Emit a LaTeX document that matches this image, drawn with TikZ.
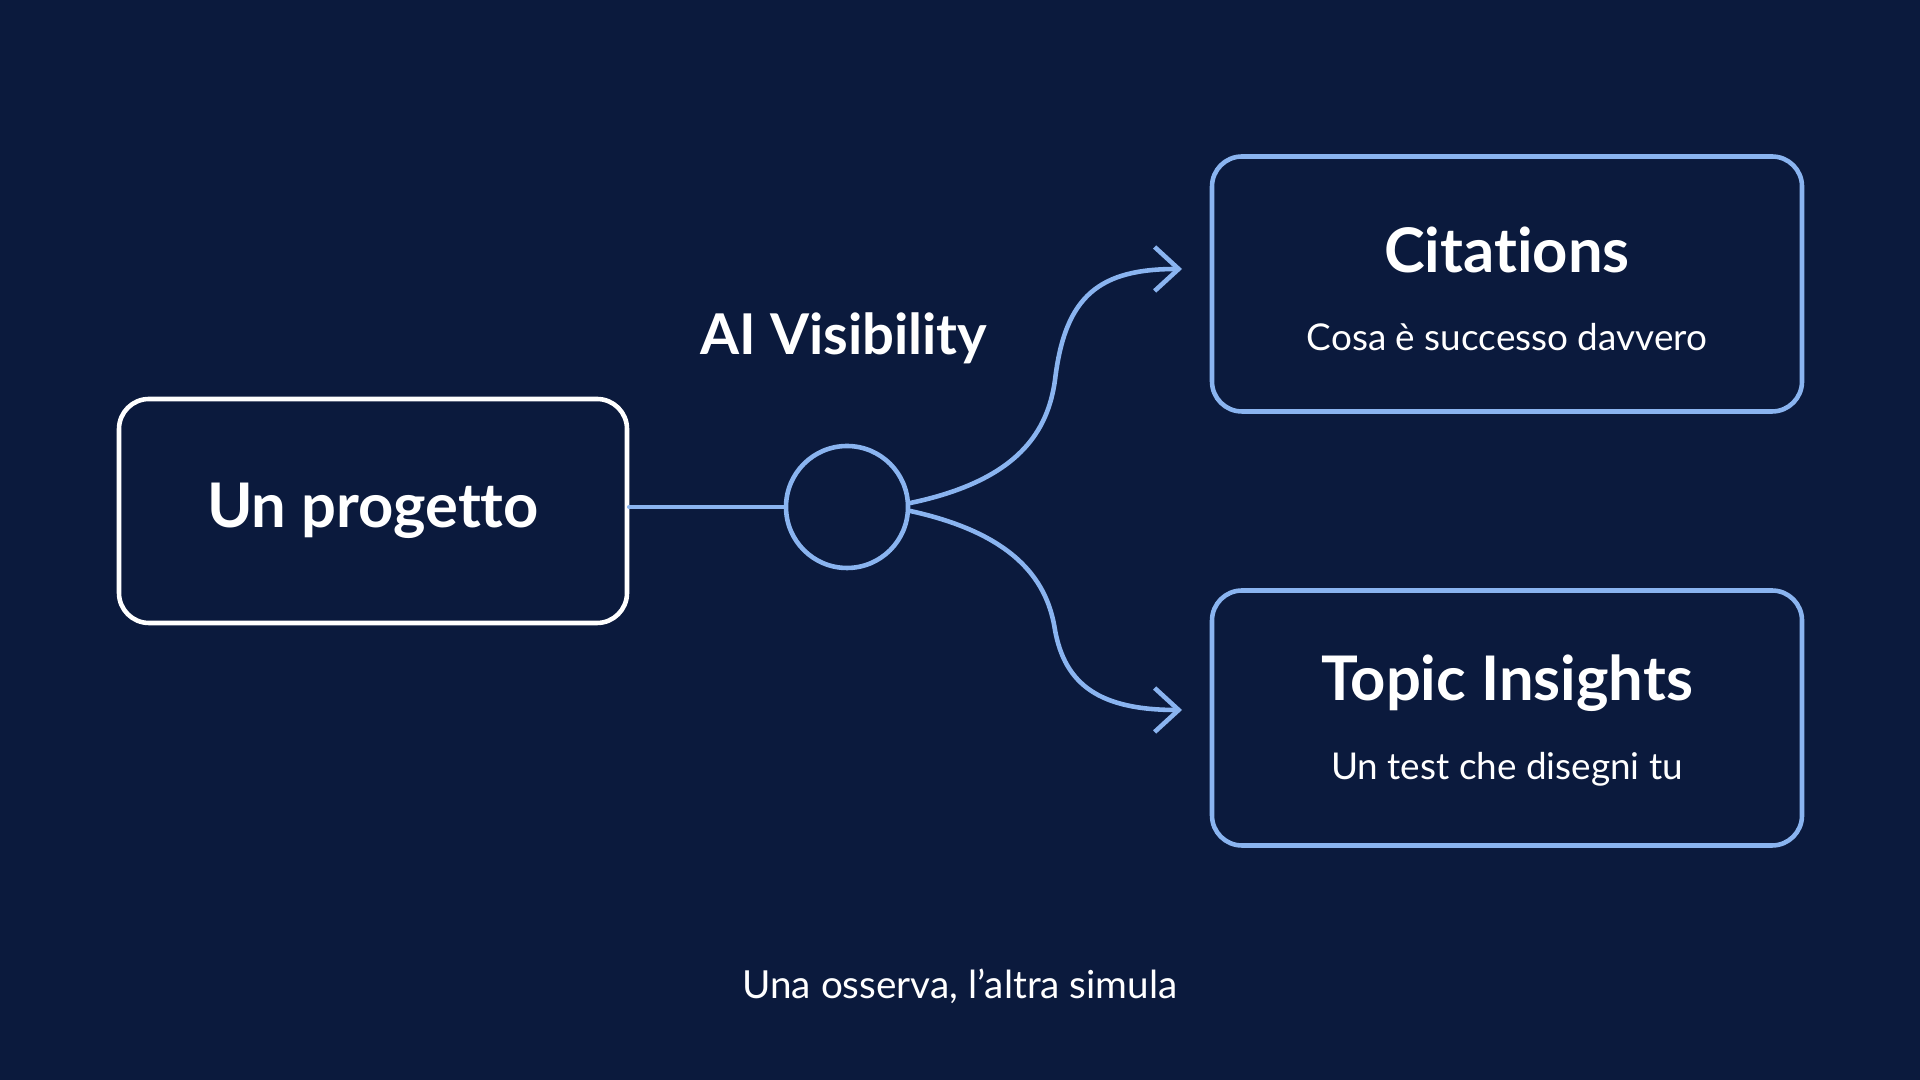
\documentclass[tikz,border=0pt]{standalone}
\usepackage{fontspec}
\setmainfont{Lato}[Ligatures=NoCommon]
\usetikzlibrary{positioning,arrows.meta}
\definecolor{navy}{HTML}{0B1A3D}
\definecolor{skyline}{HTML}{8AB4F0}

\begin{document}
\begin{tikzpicture}[
	thick,
	box/.style={draw,rounded corners=0.3cm,line width=1.3pt,minimum width=5.9cm,minimum height=2.55cm},
	title/.style={text=white,font=\fontsize{17.5}{20}\selectfont\bfseries},
	sub/.style={text=white,font=\fontsize{10.5}{12}\selectfont},
	link/.style={draw=skyline,line width=1.3pt,line cap=round}]
  \fill[navy] (0,0) rectangle (19.2,10.8);
  \useasboundingbox (0,0) rectangle (19.2,10.8);
  \node[box,draw=white,minimum width=5.08cm,minimum height=2.24cm] (project) at (3.73,5.69) {};
  \node[title] at (project) {Un progetto};
  \node[circle,draw=skyline,line width=1.3pt,minimum size=1.22cm,inner sep=0] (hub) at (8.47,5.73) {};
  \node[title,font=\fontsize{16}{19}\selectfont\bfseries] (visibility) at (8.44,7.42) {AI Visibility};
  \node[box,draw=skyline] (citations) at (15.07,7.96) {};
  \node[title] at (15.07,8.30) {Citations};
  \node[sub] at (15.07,7.43) {Cosa è successo davvero};
  \node[box,draw=skyline] (insights) at (15.07,3.62) {};
  \node[title] at (15.07,3.97) {Topic Insights};
  \node[sub] at (15.07,3.11) {Un test che disegni tu};
  \node[sub,font=\fontsize{11}{13}\selectfont] (motto) at (9.60,0.94) {Una osserva, l'altra simula};
  \coordinate (upper) at (11.82,8.11);
  \coordinate (lower) at (11.82,3.70);
  % connectors
  \path[link] (project.east |- hub.west) -- (hub.west);
  \draw[link,-{Straight Barb[length=2.4mm,width=4.4mm]}] (hub.east) ++(0,0.04)
    .. controls (10.2,6.0) and (10.48,6.5) .. (10.55,7.0)
    .. controls (10.65,7.85) and (11.0,8.11) .. (upper);
  \draw[link,-{Straight Barb[length=2.4mm,width=4.4mm]}] (hub.east) ++(0,-0.04)
    .. controls (10.2,5.45) and (10.48,4.95) .. (10.55,4.5)
    .. controls (10.65,3.95) and (11.0,3.70) .. (lower);
\end{tikzpicture}
\end{document}
